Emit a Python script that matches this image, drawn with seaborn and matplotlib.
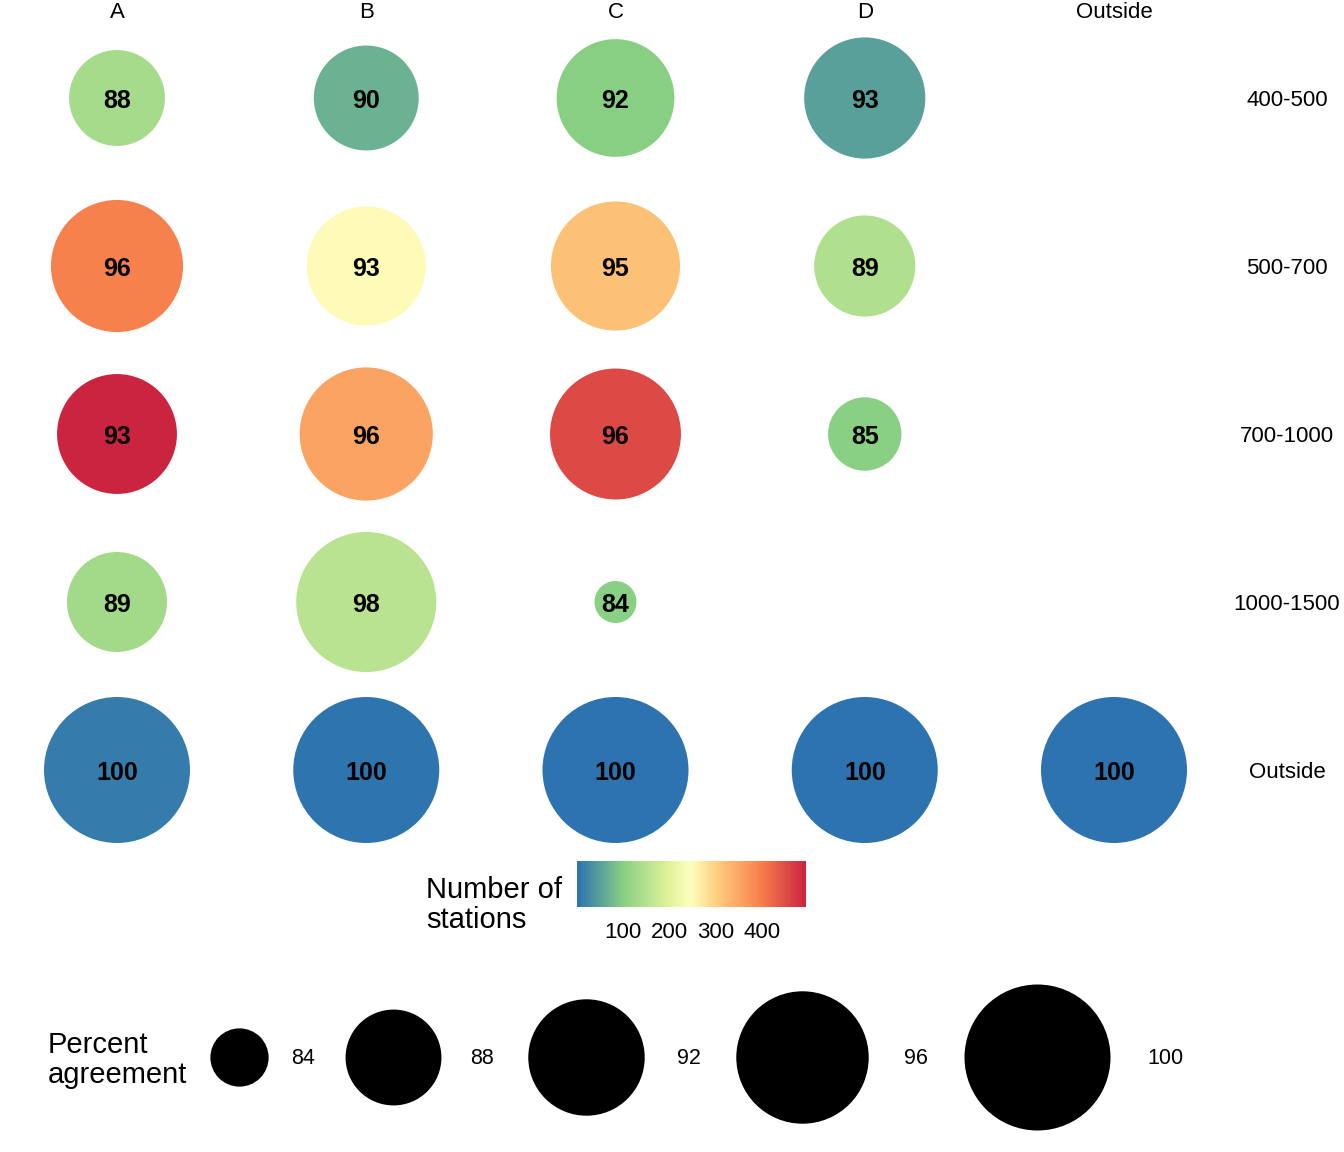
import numpy as np
import pandas as pd
import seaborn as sns
import matplotlib.pyplot as plt
from matplotlib.colors import LinearSegmentedColormap, Normalize
from matplotlib.cm import ScalarMappable

# Data ##
#########
regions = ["A", "B", "C", "D", "Outside"]
bands = ["400-500", "500-700", "700-1000", "1000-1500", "Outside"]

cell_region = ["A"] * 5 + ["B"] * 5 + ["C"] * 5 + ["D"] * 4 + ["Outside"]
cell_band = (bands + bands + bands
             + ["400-500", "500-700", "700-1000", "Outside"] + ["Outside"])
agreement = [88.0, 95.9, 92.8, 88.7, 100,
             89.6, 92.6, 96.2, 98.2, 100,
             92.3, 95.1, 95.6, 83.6, 100,
             93.1, 88.9, 85.1, 100,
             100]
stations = [133, 396, 495, 129, 12,
            70, 252, 355, 156, 3,
            100, 318, 454, 102, 2,
            50, 145, 102, 2,
            1]
legend_breaks = [84, 88, 92, 96, 100]
cbar_ticks = [100, 200, 300, 400]

sns.set_theme(style="white")
plt.rcParams["font.family"] = ["Liberation Sans", "DejaVu Sans"]
plt.rcParams.update({"text.color": "black", "axes.labelcolor": "black",
                     "xtick.color": "black", "ytick.color": "black"})

df = pd.DataFrame({"region": cell_region, "band": cell_band,
                   "agreement": agreement, "stations": stations})
df["xi"] = df["region"].map({r: i for i, r in enumerate(regions)})
df["yi"] = df["band"].map({b: i for i, b in enumerate(bands)})

# ggplot-like area scale: diameter linear in sqrt of rescaled value
d_lo, d_hi = 42, 146  # px
p_lo, p_hi = df["agreement"].min(), 100


def diam(p):
    t = np.clip((np.asarray(p, float) - p_lo) / (p_hi - p_lo), 0, 1)
    return d_lo + (d_hi - d_lo) * np.sqrt(t)


def area(p):
    return (0.72 * diam(p)) ** 2


df["area"] = area(df["agreement"])

cmap = LinearSegmentedColormap.from_list("spec", [
    (0.0, "#2c73b0"), (0.2, "#88cf84"), (0.4, "#e0f39a"), (0.5, "#fefebd"),
    (0.6, "#fed383"), (0.8, "#f7814c"), (1.0, "#cb2440")])
norm = Normalize(df["stations"].min(), df["stations"].max())

W, H = 1344, 1152
fig = plt.figure(figsize=(W / 100, H / 100), dpi=100)

# main bubble grid
ax = fig.add_axes([0, 1 - 845 / H, 1230 / W, 817 / H])
s_lo, s_hi = area(p_lo), area(p_hi)
sns.scatterplot(data=df, x="xi", y="yi", hue="stations", palette=cmap,
                hue_norm=norm, size="area", sizes=(s_lo, s_hi),
                size_norm=(s_lo, s_hi), legend=False, linewidth=0, ax=ax)
for _, r in df.iterrows():
    ax.text(r["xi"], r["yi"], f"{r['agreement']:.0f}", ha="center",
            va="center_baseline", fontsize=18, fontweight="bold", color="black")

ax.set_xlim(-117 / 249.25, (1230 - 117) / 249.25)
ax.set_ylim(4 + 75 / 168, -70 / 168)
ax.set_xticks(range(len(regions)), regions)
ax.set_yticks(range(len(bands)), bands)
ax.xaxis.tick_top()
ax.yaxis.tick_right()
ax.tick_params(axis="x", length=0, pad=3.5, labelsize=16)
ax.tick_params(axis="y", length=0, pad=41, labelsize=16)
for lab in ax.get_yticklabels():
    lab.set_ha("center")
ax.set_xlabel("")
ax.set_ylabel("")
for sp in ax.spines.values():
    sp.set_visible(False)

# colour legend
cax = fig.add_axes([577 / W, 1 - 907 / H, 229 / W, 46 / H])
cb = fig.colorbar(ScalarMappable(norm=norm, cmap=cmap), cax=cax,
                  orientation="horizontal")
cb.set_ticks(cbar_ticks)
cb.outline.set_visible(False)
cax.tick_params(direction="in", color="white", length=6.5, width=1,
                top=True, bottom=True, labeltop=False, labelsize=16, pad=10.5)
fig.text(426 / W, 1 - 905 / H, "Number of\nstations", fontsize=21,
         ha="left", va="center", linespacing=1.1)

# size legend
lax = fig.add_axes([0, 0, 1, 1])
lax.set_xlim(0, W)
lax.set_ylim(H, 0)
lax.axis("off")
lax.patch.set_alpha(0)
key_y = 1057
cursor = 210
for b in legend_breaks:
    d = float(diam(b))
    cx = cursor + d / 2
    lax.scatter([cx], [key_y], s=area(b), color="black", linewidth=0)
    lx = cursor + d + 23 + 0.17 * (d - 58)
    lax.text(lx, key_y + 2, str(b), fontsize=15.5, ha="left", va="center")
    cursor = lx + 24 + 30 + 0.08 * (d - 58)
lax.text(48, key_y + 3, "Percent\nagreement", fontsize=21, ha="left",
         va="center", linespacing=1.1)

plt.savefig("out.png", dpi=100)
